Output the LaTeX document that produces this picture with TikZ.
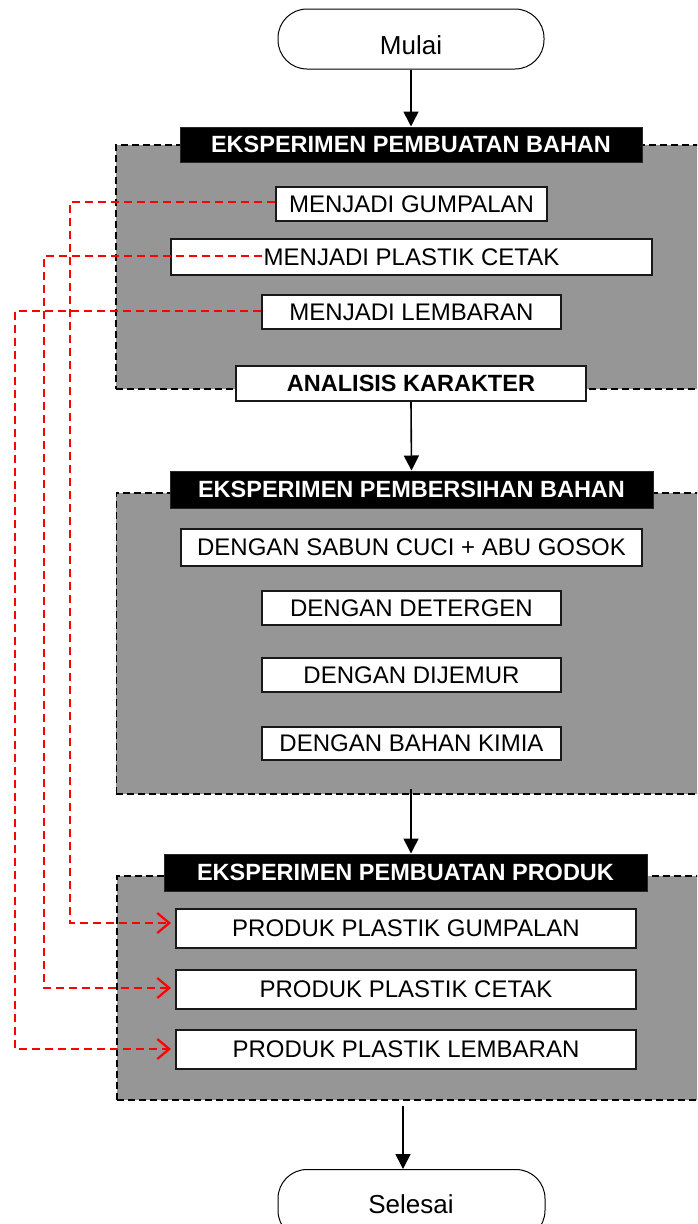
\documentclass[tikz,border=0pt]{standalone}
\usepackage{fontspec}
\setmainfont{Liberation Sans}
\usetikzlibrary{arrows.meta}
\definecolor{panelgrey}{RGB}{150,150,150}
\definecolor{redline}{RGB}{255,0,0}
\tikzset{
  panel/.style={draw=black, fill=panelgrey, line width=1.8pt, dash pattern=on 7pt off 4pt, anchor=north west, inner sep=0pt},
  hdr/.style={fill=black, draw=black!85, line width=1pt, text=white, font=\bfseries\fontsize{23.5}{26}\selectfont, inner sep=0pt},
  wbox/.style={fill=white, draw=black!90, line width=2pt, font=\fontsize{24}{26}\selectfont, inner sep=0pt},
  term/.style={draw=black, fill=white, line width=1pt, rounded corners=29pt, inner sep=0pt},
  flow/.style={-{Triangle[length=15pt,width=15pt]}, line width=1.6pt},
  redln/.style={draw=redline, line width=2.2pt, dash pattern=on 8pt off 5pt},
  redarr/.style={redln, -{Straight Barb[length=12pt,width=20pt,line width=2.2pt]}}
}
\begin{document}
\begin{tikzpicture}[x=1pt,y=-1pt]
\useasboundingbox (0,0) rectangle (697,1224);
\clip (0,0) rectangle (697,1224);

% terminals
\node[term, minimum width=266pt, minimum height=60pt] (mulai) at (411,39) {};
\node[font=\fontsize{26}{28}\selectfont] (mulait) at (411,45) {Mulai};
\node[term, minimum width=267pt, minimum height=70pt, anchor=north] (selesai) at (411.5,1169) {};
\node[font=\fontsize{26}{28}\selectfont] (selesait) at (411,1204) {Selesai};

% panels
\node[panel, minimum width=610pt, minimum height=244pt] (panel1) at (115,144) {};
\node[panel, minimum width=610pt, minimum height=301pt] (panel2) at (115.5,492) {};
\node[panel, minimum width=610pt, minimum height=224pt] (panel3) at (116,875) {};

% headers
\node[hdr, minimum width=462pt, minimum height=35pt] (h1) at (411,144.5) {EKSPERIMEN PEMBUATAN BAHAN};
\node[hdr, minimum width=483pt, minimum height=37pt] (h2) at (411.5,489.5) {EKSPERIMEN PEMBERSIHAN BAHAN};
\node[hdr, minimum width=483pt, minimum height=37pt] (h3) at (405.5,872.5) {EKSPERIMEN PEMBUATAN PRODUK};

% panel 1 boxes
\node[wbox, minimum width=271pt, minimum height=34pt] (m1) at (411.5,204) {MENJADI GUMPALAN};
\node[wbox, minimum width=481pt, minimum height=36pt] (m2) at (411.5,257) {MENJADI PLASTIK CETAK};
\node[wbox, minimum width=299pt, minimum height=34pt] (m3) at (411.5,312) {MENJADI LEMBARAN};
\coordinate (m2s) at (262,256);

% analisis
\node[wbox, font=\bfseries\fontsize{23.5}{26}\selectfont, minimum width=350pt, minimum height=35pt] (an) at (411,383.5) {ANALISIS KARAKTER};

% panel 2 boxes
\node[wbox, minimum width=461pt, minimum height=37pt] (d1) at (411.5,547.5) {DENGAN SABUN CUCI + ABU GOSOK};
\node[wbox, minimum width=299pt, minimum height=34pt] (d2) at (411.5,608) {DENGAN DETERGEN};
\node[wbox, minimum width=299pt, minimum height=34pt] (d3) at (411.5,675) {DENGAN DIJEMUR};
\node[wbox, minimum width=299pt, minimum height=33pt] (d4) at (411.5,743.5) {DENGAN BAHAN KIMIA};

% panel 3 boxes
\node[wbox, minimum width=460pt, minimum height=39pt] (p1) at (406,928.5) {PRODUK PLASTIK GUMPALAN};
\node[wbox, minimum width=460pt, minimum height=39pt] (p2) at (406,989.5) {PRODUK PLASTIK CETAK};
\node[wbox, minimum width=460pt, minimum height=39pt] (p3) at (406,1049.5) {PRODUK PLASTIK LEMBARAN};

% main flow arrows
\draw[flow] (mulai.south) -- (h1.north);
\draw[flow] (an.south) -- (h2.north);
\draw[flow] (411,789) -- (h3.north -| 411,0);
\draw[flow] (403,1106) -- (403,1169);

% red dashed connectors
\draw[redarr] (m1.west |- 0,202) -- (70,202) -- (70,923) -- ([xshift=-4pt]p1.west |- 0,923);
\draw[redarr, line width=1.7pt] (m2s) -- (44,256) -- (44,988) -- ([xshift=-4pt]p2.west |- 0,988);
\draw[redarr, line width=1.7pt] (m3.west |- 0,311) -- (15,311) -- (15,1049) -- ([xshift=-4pt]p3.west |- 0,1049);
\end{tikzpicture}
\end{document}
